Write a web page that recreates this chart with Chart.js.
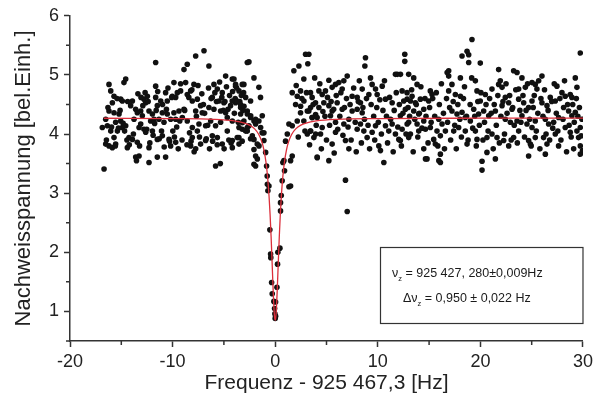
<!DOCTYPE html>
<html><head><meta charset="utf-8">
<script src="https://cdn.jsdelivr.net/npm/chart.js@4/dist/chart.umd.min.js"></script>
<style>html,body{margin:0;padding:0;background:#fff;}#wrap{width:597px;height:397px;}</style>
</head><body><div id="wrap"><canvas id="c" width="597" height="397"></canvas></div>
<script>
// ---- data ----
const xTicks = [-20, -10, 0, 10, 20, 30];
const yTicks = [1, 2, 3, 4, 5, 6];
const xMinor = [-15, -5, 5, 15, 25];
const yMinor = [0.5, 1.5, 2.5, 3.5, 4.5, 5.5];
const xTitle = 'Frequenz - 925 467,3 [Hz]';
const yTitle = 'Nachweisspannung [bel.Einh.]';
const boxLine1 = ['\u03bd', 'z', ' = 925 427, 280\u00b10,009Hz'];
const boxLine2 = ['\u0394\u03bd', 'z', ' = 0,950 \u00b1 0,022 Hz'];

// measured points, left part (-17 .. -2)
const scanA = [
[-16.68,3.41],[-16.2,4.84],[-16.03,4.73],[-15.71,4.64],[-15.87,4.53],[-15.06,4.59],[-14.9,4.56],
[-14.74,4.87],[-14.57,4.93],[-16.2,4.39],[-15.71,4.36],[-15.22,4.34],[-16.52,4.25],[-16.36,4.14],
[-16.85,4.11],[-16.03,4.05],[-15.55,4.2],[-15.06,4.22],[-14.9,4.11],[-14.57,4.14],[-15.38,4.05],
[-15.71,3.94],[-16.2,3.8],[-15.87,3.77],[-15.55,3.83],[-16.52,3.83],[-14.25,3.94],[-13.92,3.91],
[-14.41,3.77],[-13.6,3.61],[-13.27,3.63],[-12.3,3.52],[-11.49,3.61],[-10.68,3.61],[-13.92,4.56],
[-14.09,4.48],[-13.6,4.42],[-13.44,4.36],[-13.11,4.39],[-12.95,4.31],[-12.62,4.53],[-12.79,4.59],
[-12.46,4.64],[-13.76,4.25],[-13.11,4.17],[-12.79,4.08],[-13.27,4.11],[-12.3,4.39],[-11.97,4.34],
[-11.65,4.62],[-11.49,4.48],[-11.16,4.56],[-11.0,4.36],[-12.14,4.22],[-11.81,4.25],[-11.33,4.25],
[-10.84,4.2],[-12.62,4.03],[-11.97,4.05],[-11.49,3.91],[-11.0,3.97],[-12.3,3.77],[-13.44,3.86],
[-10.35,3.91],[-9.7,3.86],[-10.19,3.8],[-11.65,5.21],[-11.65,4.81],[-10.68,4.7],[-10.52,4.56],
[-10.03,4.64],[-9.7,4.62],[-9.54,4.7],[-9.22,4.73],[-10.52,4.34],[-9.87,4.36],[-9.38,4.39],
[-8.89,4.42],[-10.19,4.25],[-9.7,4.25],[-9.05,4.28],[-8.57,4.22],[-9.87,4.87],[-8.73,4.87],
[-7.92,4.84],[-8.24,4.73],[-8.57,4.67],[-8.57,5.18],[-8.89,5.09],[-7.75,5.32],[-6.94,5.41],
[-6.46,5.15],[-8.08,4.56],[-7.59,4.59],[-7.27,4.48],[-7.75,4.39],[-7.11,4.36],[-7.43,4.17],
[-8.08,4.11],[-6.78,4.14],[-7.59,4.05],[-8.08,3.94],[-8.24,3.8],[-7.75,3.75],[-7.27,3.83],
[-6.78,3.89],[-5.97,4.84],[-5.64,4.76],[-5.16,4.7],[-6.13,4.62],[-5.48,4.56],[-5.0,4.53],
[-6.46,4.45],[-5.97,4.42],[-5.32,4.39],[-4.83,4.36],[-4.35,4.48],[-6.29,4.22],[-5.81,4.14],
[-5.32,4.2],[-4.67,4.28],[-4.18,4.22],[-6.13,3.97],[-5.64,3.94],[-5.16,3.83],[-4.67,4.05],
[-4.18,3.89],[-3.7,3.94],[-5.81,3.46],[-4.83,4.98],[-4.18,4.93],[-3.86,4.81],[-3.53,4.73],
[-3.05,4.84],[-2.88,4.62],[-2.72,5.21],[-3.86,4.53],[-3.21,4.45],[-3.37,4.34],[-2.72,4.39],
[-3.53,4.11],[-2.88,4.05],[-3.05,4.22],[-4.18,3.77],[-3.53,3.83],
[-16.45,3.9],[-16.3,4.45],[-15.95,4.12],[-15.58,3.8],[-15.42,4.6],[-15.28,4.1],[-15.12,4.4],
[-14.82,4.18],[-14.68,4.05],[-14.45,3.9],[-14.38,4.55],[-14.22,3.82],[-13.82,4.0],[-13.52,3.55],
[-13.38,4.68],[-13.22,3.8],[-13.08,4.62],[-12.9,4.48],[-12.68,4.7],[-12.52,4.08],[-12.38,4.55],
[-12.22,3.85],[-11.9,3.98],[-11.75,4.18],[-11.6,4.4],[-11.45,4.72],[-11.3,3.92],[-11.08,4.05],
[-10.98,4.5],[-10.82,3.78],[-10.6,4.42],[-10.45,4.78],[-10.3,3.88],[-10.08,4.62],[-9.98,4.05],
[-9.82,3.95],[-9.6,4.12],[-9.45,3.75],[-9.3,4.22],[-9.22,4.85],[-9.08,3.9],[-8.82,4.4],
[-8.6,3.82],[-8.42,4.62],[-8.35,4.02],[-8.2,3.88],[-8.12,4.75],[-7.9,3.7],[-7.68,4.3],
[-7.52,4.82],[-7.38,3.95],[-7.15,4.68],[-7.0,4.5],[-6.88,4.35],[-6.72,3.92],[-6.58,4.15],
[-6.5,4.78],[-6.4,3.75],[-6.25,4.6],[-6.1,3.88],[-5.88,4.7],[-5.72,4.55],[-5.65,3.82],
[-5.42,4.88],[-5.35,3.5],[-5.2,4.62],[-5.05,4.4],[-4.98,3.75],[-4.9,4.55],[-4.75,4.8],
[-4.6,4.42],[-4.52,3.9],[-4.45,4.65],[-4.3,3.85],[-4.15,4.72],[-3.98,4.35],[-3.9,4.6],
[-3.75,4.78],[-3.6,4.2],[-3.45,4.55],[-3.3,4.65],[-3.22,3.88],[-3.15,4.4],[-3.08,4.7]
];
// measured points around the resonance (-3 .. 2)
const scanB = [
[-4.02,4.93],[-3.86,4.84],[-4.19,4.56],[-3.7,4.56],[-3.21,4.84],[-3.37,4.45],[-2.72,4.34],
[-2.4,4.56],[-2.4,4.28],[-2.56,5.22],[-2.07,4.95],[-3.21,4.08],[-2.56,4.14],[-2.07,3.91],
[-3.54,3.94],[-1.91,3.46],[-3.37,4.5],[-3.04,4.47],[-3.2,4.19],[-2.72,4.11],[-2.39,4.31],
[-2.07,4.22],[-1.91,4.17],[-2.72,4.05],[-2.4,3.92],
[-0.93,3.69],[-0.84,3.46],[-0.78,3.29],[-0.76,3.15],[-0.71,3.04],[-0.61,3.12],[-0.52,2.38],
[-0.45,1.97],[-0.43,1.91],[-0.35,1.49],[-0.29,1.30],[-0.13,1.17],[-0.06,1.05],[-0.03,0.96],
[0.0,0.88],[0.04,1.16],[0.04,0.92],[0.17,1.41],[0.23,1.80],[0.26,2.00],[0.46,2.07],[0.52,2.70],
[0.52,2.84],[0.59,2.96],[0.68,3.21],[0.91,3.38],[0.85,3.55],[0.75,3.52],[1.01,3.88],[1.5,3.12],
[1.34,3.11],[1.18,4.0],[1.34,4.17],[1.66,4.14],[1.5,3.55],[1.66,3.63],[-1.1,4.02],[-1.27,4.02],
[-1.42,4.11],[-1.58,3.80],[-1.74,3.58],[-1.91,3.63],[-2.07,3.74],[-2.07,3.49],[-2.23,3.97],
[-1.1,3.89],[-1.26,4.31],[-1.43,4.62],[-1.59,4.79],[-1.59,4.22],[-1.91,4.25],[-1.75,3.83],
[1.66,4.70],[2.15,4.64],[1.99,4.5],[1.82,5.07]
];
// measured points, middle part (2 .. 13)
const scanC = [
[2.48,4.47],[2.8,4.56],[3.13,4.39],[3.45,4.45],[3.61,4.28],[3.94,4.33],[2.15,4.22],[3.13,4.0],
[3.45,4.05],[3.94,4.0],[4.1,3.6],[2.31,5.15],[2.96,5.35],[3.28,5.35],[3.18,5.19],[2.79,4.93],
[2.47,4.73],[3.44,4.7],[3.6,4.62],[4.26,4.73],[4.58,4.67],[4.9,4.73],[5.23,4.91],[5.55,4.79],
[5.88,4.84],[6.2,4.87],[6.69,4.9],[7.02,4.98],[6.53,4.76],[3.93,4.53],[4.26,4.45],[4.74,4.53],
[5.23,4.48],[5.55,4.39],[6.04,4.53],[6.53,4.42],[2.47,4.36],[2.79,4.22],[3.28,4.39],[3.6,4.28],
[4.09,4.28],[4.58,4.11],[5.39,4.31],[5.88,4.2],[6.69,4.17],[7.18,4.25],[7.5,4.39],[7.99,4.42],
[8.48,4.36],[8.31,4.53],[7.99,4.62],[7.5,4.64],[8.48,4.76],[9.13,4.67],[9.29,4.95],[9.45,4.84],
[8.8,5.29],[8.74,5.15],[9.78,4.76],[9.94,4.67],[10.43,4.81],[10.75,4.59],[11.4,4.53],[11.72,5.01],
[12.21,5.01],[12.63,5.35],[12.63,5.23],[12.37,4.73],[12.86,4.59],[3.44,4.05],[3.77,3.94],
[4.09,3.61],[4.42,4.0],[5.23,3.55],[5.55,3.83],[5.88,4.03],[6.85,3.89],[7.18,3.75],[7.99,4.08],
[8.31,4.17],[8.64,4.05],[8.96,3.94],[9.45,4.03],[9.78,4.14],[10.1,3.8],[10.26,3.72],[10.59,3.52],
[10.75,4.14],[11.07,4.05],[11.4,4.17],[11.72,4.0],[12.05,3.91],[12.37,4.08],[12.86,4.17],
[6.85,3.22],[7.02,2.69],[11.9,5.01],
[2.05,4.82],[2.25,3.95],[2.6,4.6],[2.9,4.05],[3.05,4.7],[3.35,3.82],[3.7,4.5],[3.85,4.95],
[4.0,4.15],[4.35,4.85],[4.5,3.75],[4.65,4.38],[4.85,4.3],[5.0,3.9],[5.1,4.62],[5.3,4.15],
[5.45,4.55],[5.7,4.42],[5.75,3.68],[5.95,4.65],[6.1,4.08],[6.3,4.3],[6.4,4.7],[6.6,3.98],
[6.75,4.45],[6.95,4.6],[7.1,4.12],[7.3,4.5],[7.4,3.9],[7.65,4.78],[7.8,4.2],[7.9,3.7],
[8.1,4.55],[8.2,4.9],[8.4,3.85],[8.55,4.45],[8.7,4.25],[8.9,4.6],[9.05,4.15],[9.2,3.75],
[9.35,4.5],[9.6,4.3],[9.7,3.9],[9.9,4.45],[10.05,4.2],[10.2,4.58],[10.35,4.0],[10.5,4.4],
[10.65,4.9],[10.85,4.3],[10.95,3.85],[11.15,4.62],[11.25,4.25],[11.5,3.7],[11.6,4.4],[11.8,4.7],
[11.95,4.12],[12.1,4.5],[12.3,3.8],[12.45,4.35],[12.75,4.0],[12.95,4.45]
];
// measured points, right part (13 .. 30)
const scanD = [
[13.01,5.01],[13.5,4.95],[12.85,4.7],[13.34,4.64],[13.83,4.84],[12.53,4.56],[13.18,4.56],
[13.66,4.53],[14.15,4.59],[12.69,4.42],[13.5,4.39],[13.99,4.34],[14.48,4.42],[12.2,4.31],
[13.01,4.2],[13.83,4.17],[14.48,4.22],[13.18,4.0],[13.99,4.05],[14.64,4.08],[15.12,4.11],
[12.2,3.89],[13.01,3.94],[14.48,3.75],[14.8,3.58],[15.61,3.83],[15.45,3.91],[15.12,4.73],
[15.29,4.67],[14.96,4.56],[15.94,4.25],[16.26,4.17],[15.77,4.05],[16.1,3.97],[16.59,4.05],
[16.1,3.66],[16.1,3.52],[16.91,5.07],[16.91,4.98],[17.23,4.84],[16.91,4.73],[17.56,4.67],
[18.05,4.64],[18.05,4.95],[18.21,5.32],[18.7,5.4],[18.86,5.34],[18.86,5.21],[19.18,5.6],
[19.99,5.2],[17.23,4.39],[17.72,4.34],[18.21,4.37],[18.53,4.28],[19.02,4.22],[17.4,4.05],
[17.88,4.11],[18.53,4.05],[18.7,3.83],[19.51,4.9],[19.67,4.73],[19.99,4.56],[20.48,4.67],
[21.13,4.76],[19.35,4.42],[19.83,4.34],[20.32,4.39],[20.81,4.31],[21.46,4.39],[19.51,4.05],
[19.67,3.91],[20.64,3.94],[21.13,4.0],[21.62,3.94],[20.64,3.69],[20.16,3.54],[20.16,3.39],
[21.46,3.58],[21.78,5.09],[21.94,4.9],[21.78,4.84],[22.11,4.79],[22.43,4.62],[22.76,4.53],
[22.11,4.48],[23.08,4.42],[22.43,4.25],[22.92,4.2],[23.57,4.22],[22.27,3.89],[22.76,3.8],
[23.24,3.94],[23.24,5.07],[23.57,5.04],[24.05,4.95],[23.73,4.76],[24.38,4.79],[23.73,4.59],
[24.22,4.53],[24.7,4.45],[25.03,4.56],[24.05,4.31],[24.54,4.17],[25.03,4.11],[25.35,4.22],
[23.73,4.05],[24.7,3.89],[24.87,3.83],[24.7,3.63],[25.35,3.94],[25.03,4.87],[25.35,4.84],
[25.68,4.9],[26.0,4.98],[25.51,4.76],[26.0,4.53],[26.49,4.48],[26.81,4.62],[27.3,4.56],
[26.33,4.25],[26.65,4.17],[27.14,4.2],[27.62,4.28],[26.16,3.94],[26.49,3.83],[26.33,3.66],
[27.62,3.8],[27.3,4.0],[27.46,4.81],[27.95,4.7],[28.27,4.64],[28.76,4.67],[28.92,4.62],
[28.11,4.45],[28.6,4.39],[28.92,4.31],[29.25,4.37],[28.27,4.11],[28.76,4.03],[29.41,4.05],
[29.74,4.11],[29.25,4.95],[29.41,4.79],[29.74,5.37],[29.09,3.75],[29.74,3.8],[29.74,3.66],
[29.57,3.94],[29.83,3.97],[14.65,3.58],[15.95,3.55],[16.76,5.04],
[13.1,4.3],[13.3,4.75],[13.45,3.7],[13.6,4.25],[13.75,4.5],[13.9,3.95],[14.05,4.35],[14.2,4.8],
[14.3,4.1],[14.6,4.6],[14.7,4.3],[14.9,3.85],[15.05,4.45],[15.2,4.2],[15.35,4.6],[15.55,4.3],
[15.7,4.7],[15.85,3.8],[16.0,4.5],[16.2,4.85],[16.4,4.35],[16.5,3.75],[16.7,4.6],[16.8,4.2],
[17.0,4.45],[17.1,3.9],[17.35,4.55],[17.5,4.15],[17.65,3.75],[17.8,4.5],[18.0,4.25],[18.15,3.95],
[18.35,4.6],[18.45,4.8],[18.65,4.3],[18.8,3.9],[19.0,4.5],[19.15,4.95],[19.25,4.1],[19.45,4.3],
[19.6,3.8],[19.75,4.55],[19.9,4.15],[20.05,4.7],[20.25,3.9],[20.4,4.2],[20.55,4.5],[20.75,4.05],
[20.9,4.6],[21.05,4.35],[21.25,3.75],[21.35,4.5],[21.55,4.15],[21.7,4.65],[21.85,3.85],[22.0,4.3],
[22.2,4.55],[22.35,4.0],[22.5,4.85],[22.6,4.35],[22.85,4.65],[23.0,3.9],[23.15,4.45],[23.3,4.15],
[23.45,4.75],[23.6,3.85],[23.85,4.4],[23.95,4.2],[24.15,4.65],[24.3,3.95],[24.45,4.4],[24.6,4.85],
[24.8,4.25],[24.95,3.8],[25.15,4.45],[25.25,4.65],[25.45,4.05],[25.6,4.35],[25.8,3.75],[25.9,4.6],
[26.1,4.3],[26.25,4.75],[26.4,4.0],[26.6,4.4],[26.75,3.9],[26.95,4.55],[27.05,4.1],[27.2,4.85],
[27.4,4.35],[27.55,4.05],[27.75,4.6],[27.85,3.9],[28.05,4.25],[28.2,4.9],[28.4,3.7],[28.5,4.5],
[28.65,4.15],[28.85,3.95],[29.0,4.5],[29.15,4.2],[29.35,4.6],[29.5,4.3],[29.65,4.45],[29.9,4.25],
[29.95,3.72]
];
// fitted curve
const fitX = [-16.7,-10,-6,-4,-3,-2.5,-2,-1.6,-1.3,-1.1,-0.9,-0.75,-0.6,-0.5,-0.4,-0.3,-0.2,-0.1,-0.05,0,
              0.05,0.1,0.2,0.3,0.4,0.5,0.6,0.75,0.9,1.1,1.3,1.6,2,2.5,3,4,6,10,20,30];
const fitY = [4.267,4.262,4.249,4.222,4.186,4.151,4.087,3.993,3.867,3.733,3.525,3.291,2.953,2.648,2.269,1.825,1.365,0.995,0.887,0.85,
              0.887,0.995,1.365,1.825,2.269,2.648,2.953,3.291,3.525,3.733,3.867,3.993,4.087,4.151,4.186,4.222,4.249,4.262,4.268,4.269];

// ---- chart ----
const FONT = '"Liberation Sans", Arial, Helvetica, sans-serif';
const AXIS = '#333';
const points = [...scanA, ...scanB, ...scanC, ...scanD].map(p => ({x: p[0], y: p[1]}));
const fit = fitX.map((x, i) => ({x: x, y: fitY[i]}));

const minorTicks = {
  id: 'minorTicks',
  afterDraw(chart) {
    const c = chart.ctx, xs = chart.scales.x, ys = chart.scales.y;
    c.save();
    c.strokeStyle = AXIS; c.lineWidth = 1.5;
    c.beginPath();
    xMinor.forEach(v => { const p = xs.getPixelForValue(v); c.moveTo(p, xs.top); c.lineTo(p, xs.top + 4); });
    yMinor.forEach(v => { const p = ys.getPixelForValue(v); c.moveTo(ys.right, p); c.lineTo(ys.right - 4, p); });
    c.stroke();
    c.restore();
  }
};

const infoBox = {
  id: 'infoBox',
  afterDraw(chart) {
    const c = chart.ctx;
    const ca = chart.chartArea;
    const bx = 380.5, by = 247.5, bw = ca.right - 380.5, bh = 76;
    c.save();
    c.strokeStyle = '#333'; c.lineWidth = 1.2;
    c.strokeRect(bx, by, bw, bh);
    c.fillStyle = '#1a1a1a';
    c.textBaseline = 'alphabetic';
    function line(parts, x, y) {
      c.font = '12.5px ' + FONT;
      c.fillText(parts[0], x, y);
      x += c.measureText(parts[0]).width;
      c.font = '7.5px ' + FONT;
      c.fillText(parts[1], x, y + 4);
      x += c.measureText(parts[1]).width;
      c.font = '12.5px ' + FONT;
      c.fillText(parts[2], x, y);
    }
    line(boxLine1, 392, 277);
    line(boxLine2, 403, 302);
    c.restore();
  }
};

new Chart(document.getElementById('c').getContext('2d'), {
  type: 'scatter',
  data: {
    datasets: [
      {type: 'line', data: fit, borderColor: '#db2f3b', borderWidth: 1.3, pointRadius: 0,
       fill: false, cubicInterpolationMode: 'monotone', order: 0},
      {data: points, pointRadius: 2.8, pointHoverRadius: 2.8, backgroundColor: '#111',
       borderWidth: 0, order: 1}
    ]
  },
  options: {
    responsive: false, animation: false, devicePixelRatio: 1,
    layout: {padding: {top: 15, right: 12, left: 0, bottom: 0}},
    plugins: {legend: {display: false}, tooltip: {enabled: false}},
    scales: {
      x: {
        type: 'linear', min: -20, max: 30,
        afterBuildTicks: s => { s.ticks = xTicks.map(v => ({value: v})); },
        afterFit: s => { s.height = 56; },
        ticks: {font: {family: FONT, size: 18}, color: '#222', padding: 4, maxRotation: 0,
                callback: v => String(v)},
        grid: {drawOnChartArea: false, drawTicks: true, tickLength: 6, tickColor: AXIS, tickWidth: 1.5},
        border: {display: true, color: AXIS, width: 1.5},
        title: {display: true, text: xTitle, font: {family: FONT, size: 21}, color: '#222',
                padding: {top: 0, bottom: 1}}
      },
      y: {
        type: 'linear', min: 0.5, max: 6,
        afterBuildTicks: s => { s.ticks = yTicks.map(v => ({value: v})); },
        afterFit: s => { s.width = 70; },
        ticks: {font: {family: FONT, size: 18}, color: '#222', padding: 5, callback: v => String(v)},
        grid: {drawOnChartArea: false, drawTicks: true, tickLength: 6, tickColor: AXIS, tickWidth: 1.5},
        border: {display: true, color: AXIS, width: 1.5},
        title: {display: true, text: yTitle, font: {family: FONT, size: 22}, color: '#222',
                padding: {top: 11, bottom: 0}}
      }
    }
  },
  plugins: [minorTicks, infoBox]
});
</script></body></html>
